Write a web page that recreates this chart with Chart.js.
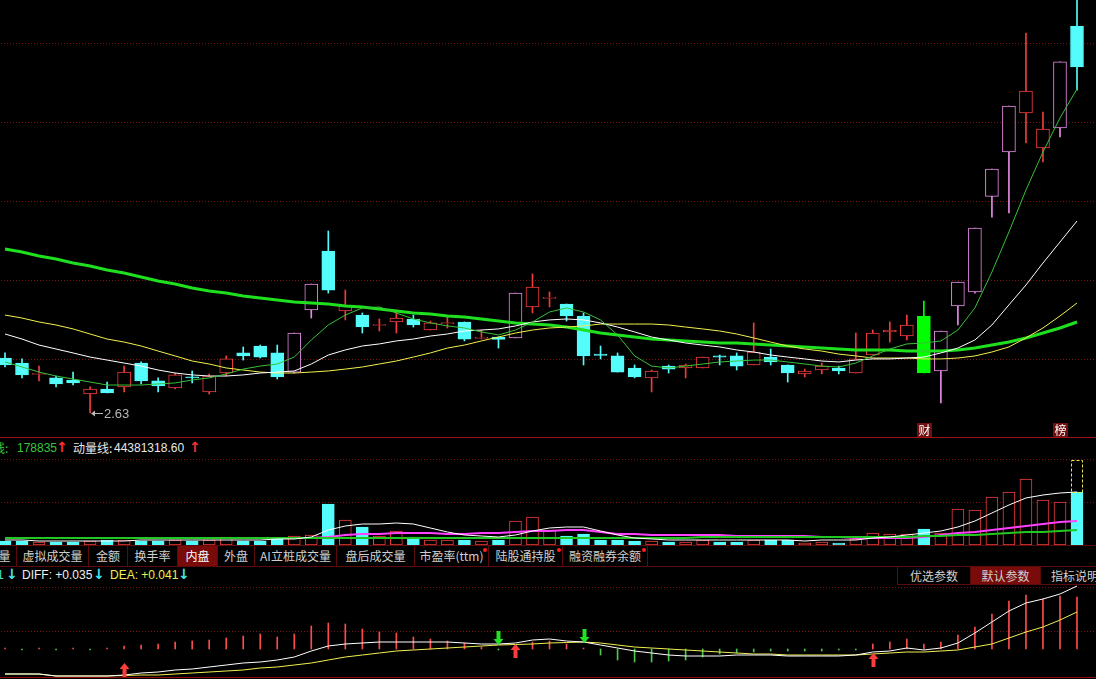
<!DOCTYPE html>
<html>
<head>
<meta charset="utf-8">
<script src="https://cdn.jsdelivr.net/npm/chart.js@4.4.1/dist/chart.umd.min.js"></script>
<style>
  html, body { margin: 0; padding: 0; background: #000; }
  body { width: 1096px; height: 679px; position: relative; overflow: hidden;
         font-family: "Liberation Sans", Arial, "Noto Sans CJK SC", sans-serif; color: #d2d2d2; }
  canvas { position: absolute; left: -20px; }
  .rule { position: absolute; left: 0; width: 1096px; height: 1px; background: #a01010; }
  .t { position: absolute; font-size: 12px; line-height: 16px; white-space: pre; }
  .cjk { font-family: "Noto Sans CJK SC", sans-serif; }
  .ar { font-family: "DejaVu Sans", sans-serif; font-size: 14px; font-weight: bold; }
  .up { color: #ff3030; }
  .dn { color: #40e8f0; }
  .tab { position: absolute; top: 546px; height: 20px; line-height: 19px; text-align: center;
         font-family: "Noto Sans CJK SC", sans-serif; font-size: 12px; color: #d0d0d0;
         border-right: 1px solid #5c0a0a; box-sizing: border-box; }
  .on { background: #7a0b0b; color: #fff; }
  .dot::after { content: ""; position: absolute; right: 1px; top: 2px; width: 4px; height: 4px;
                border-radius: 50%; background: #ff2020; }
  .btn { position: absolute; top: 566px; height: 19px; line-height: 18px; text-align: center;
         font-family: "Noto Sans CJK SC", sans-serif; font-size: 12px; color: #d0d0d0;
         border: 1px solid #5c0a0a; box-sizing: border-box; }
</style>
</head>
<body>

<canvas id="priceChart" width="1136" height="437" style="top:0"></canvas>
<div class="rule" style="top:437px"></div>

<span class="t cjk" style="left:-7px;top:440px;color:#3cc43c">线:</span>
<span class="t" style="left:17px;top:440px;color:#3cc43c">178835</span>
<span class="t ar up" style="left:56px;top:439px">↑</span>
<span class="t cjk" style="left:73px;top:440px;color:#e8e8e8">动量线:</span>
<span class="t" style="left:114px;top:440px;color:#e8e8e8">44381318.60</span>
<span class="t ar up" style="left:189px;top:439px">↑</span>

<canvas id="volChart" width="1136" height="90" style="top:455px"></canvas>
<div class="rule" style="top:545px;background:#5c0a0a"></div>

<div class="tab" style="left:-7px;width:24px">量</div>
<div class="tab" style="left:17px;width:72px">虚拟成交量</div>
<div class="tab" style="left:89px;width:39px">金额</div>
<div class="tab" style="left:128px;width:50px">换手率</div>
<div class="tab on" style="left:178px;width:40px">内盘</div>
<div class="tab" style="left:218px;width:37px">外盘</div>
<div class="tab" style="left:255px;width:82px">AI立桩成交量</div>
<div class="tab" style="left:337px;width:78px">盘后成交量</div>
<div class="tab dot" style="left:415px;width:74px">市盈率(ttm)</div>
<div class="tab dot" style="left:489px;width:74px">陆股通持股</div>
<div class="tab dot" style="left:563px;width:85px">融资融券余额</div>
<div class="rule" style="top:566px;background:#5c0a0a"></div>

<span class="t" style="left:-3px;top:567px;color:#40e8c0">1</span>
<span class="t ar dn" style="left:6px;top:566px">↓</span>
<span class="t" style="left:22px;top:567px;color:#f0f0f0">DIFF: +0.035</span>
<span class="t ar dn" style="left:93px;top:566px">↓</span>
<span class="t" style="left:110px;top:567px;color:#f0f050">DEA: +0.041</span>
<span class="t ar dn" style="left:178px;top:566px">↓</span>
<div class="btn" style="left:897px;width:74px">优选参数</div>
<div class="btn on" style="left:970px;width:71px">默认参数</div>
<div class="btn" style="left:1040px;width:70px">指标说明</div>

<canvas id="macdChart" width="1136" height="94" style="top:585px"></canvas>
<div class="rule" style="top:677px;background:#8a0a0a"></div>

<script>
// daily candles (price)
const opens = [2.978, 2.946, 2.874, 2.852, 2.839, 2.750, 2.782, 2.795, 2.946, 2.833,
  2.788, 2.858, 2.763, 2.883, 3.010, 3.054, 3.010, 2.889, 3.282, 3.655,
  3.276, 3.250, 3.184, 3.206, 3.225, 3.155, 3.196, 3.206, 3.102, 3.111,
  3.105, 3.301, 3.355, 3.320, 3.244, 3.003, 2.991, 2.915, 2.852, 2.927,
  2.915, 2.915, 2.991, 2.991, 2.934, 2.984, 2.934, 2.877, 2.902, 2.915,
  2.883, 2.997, 3.143, 3.117, 3.244, 2.896, 3.307, 3.396, 4.001, 4.282,
  4.529, 4.307, 4.434, 5.079];
const highs = [3.010, 2.972, 2.927, 2.864, 2.889, 2.795, 2.826, 2.927, 2.953, 2.852,
  2.883, 2.896, 2.877, 2.991, 3.048, 3.060, 3.060, 3.136, 3.446, 3.782,
  3.408, 3.263, 3.225, 3.282, 3.250, 3.212, 3.238, 3.206, 3.155, 3.111,
  3.389, 3.510, 3.396, 3.320, 3.263, 3.054, 3.010, 2.934, 2.902, 2.934,
  2.940, 2.984, 2.997, 3.010, 3.200, 3.035, 2.934, 2.908, 2.946, 2.927,
  3.136, 3.155, 3.206, 3.250, 3.339, 3.149, 3.459, 3.801, 4.174, 4.573,
  5.035, 4.535, 4.852, 5.260];
const lows = [2.921, 2.852, 2.833, 2.795, 2.807, 2.630, 2.757, 2.763, 2.814, 2.763,
  2.782, 2.820, 2.750, 2.864, 2.965, 2.978, 2.845, 2.883, 3.231, 3.389,
  3.219, 3.136, 3.149, 3.136, 3.174, 3.155, 3.168, 3.086, 3.098, 3.041,
  3.105, 3.263, 3.301, 3.212, 2.934, 2.972, 2.889, 2.852, 2.763, 2.883,
  2.852, 2.915, 2.934, 2.902, 2.934, 2.934, 2.826, 2.858, 2.877, 2.877,
  2.883, 2.997, 3.079, 3.092, 2.883, 2.693, 3.187, 3.389, 3.870, 3.896,
  4.339, 4.219, 4.377, 4.674];
const closes = [2.934, 2.871, 2.877, 2.814, 2.820, 2.782, 2.757, 2.889, 2.833, 2.801,
  2.871, 2.852, 2.864, 2.972, 2.991, 2.984, 2.858, 3.136, 3.446, 3.408,
  3.307, 3.174, 3.187, 3.231, 3.187, 3.200, 3.200, 3.098, 3.105, 3.095,
  3.389, 3.427, 3.358, 3.244, 2.991, 2.994, 2.889, 2.858, 2.896, 2.908,
  2.934, 2.984, 2.984, 2.927, 3.016, 2.953, 2.883, 2.896, 2.927, 2.896,
  2.972, 3.136, 3.155, 3.187, 2.883, 3.149, 3.459, 3.801, 4.174, 4.573,
  4.668, 4.427, 4.852, 4.820];

// moving averages
const ma5 = [2.953, 2.921, 2.889, 2.864, 2.845, 2.826, 2.807, 2.807, 2.807, 2.814,
  2.820, 2.839, 2.852, 2.877, 2.908, 2.927, 2.940, 2.984, 3.092, 3.187,
  3.250, 3.295, 3.301, 3.263, 3.225, 3.200, 3.181, 3.168, 3.143, 3.124,
  3.155, 3.206, 3.269, 3.295, 3.269, 3.219, 3.124, 2.991, 2.927, 2.915,
  2.927, 2.940, 2.953, 2.959, 2.965, 2.965, 2.953, 2.940, 2.927, 2.921,
  2.946, 2.991, 3.035, 3.067, 3.073, 3.086, 3.155, 3.295, 3.522, 3.776,
  4.041, 4.282, 4.497, 4.681];
const ma10 = [3.130, 3.098, 3.060, 3.035, 3.010, 2.984, 2.965, 2.946, 2.927, 2.902,
  2.883, 2.871, 2.864, 2.864, 2.871, 2.883, 2.889, 2.896, 2.940, 2.997,
  3.029, 3.054, 3.067, 3.086, 3.098, 3.117, 3.130, 3.149, 3.155, 3.162,
  3.181, 3.206, 3.219, 3.225, 3.219, 3.200, 3.174, 3.143, 3.111, 3.092,
  3.073, 3.060, 3.048, 3.029, 3.016, 2.997, 2.984, 2.972, 2.959, 2.953,
  2.965, 2.972, 2.972, 2.978, 2.984, 3.010, 3.041, 3.092, 3.187, 3.314,
  3.440, 3.579, 3.712, 3.845];
const ma20 = [3.250, 3.231, 3.206, 3.187, 3.162, 3.130, 3.098, 3.079, 3.054, 3.022,
  2.991, 2.959, 2.940, 2.915, 2.902, 2.889, 2.883, 2.883, 2.889, 2.896,
  2.908, 2.921, 2.940, 2.959, 2.984, 3.010, 3.041, 3.060, 3.086, 3.111,
  3.136, 3.155, 3.168, 3.174, 3.181, 3.193, 3.193, 3.193, 3.193, 3.187,
  3.174, 3.162, 3.149, 3.130, 3.105, 3.079, 3.054, 3.035, 3.022, 3.003,
  2.991, 2.978, 2.978, 2.978, 2.972, 2.972, 2.978, 2.991, 3.016, 3.048,
  3.105, 3.168, 3.244, 3.326];
const ma60 = [3.668, 3.649, 3.624, 3.605, 3.579, 3.560, 3.535, 3.516, 3.491, 3.465,
  3.446, 3.421, 3.402, 3.389, 3.371, 3.358, 3.345, 3.333, 3.326, 3.320,
  3.307, 3.301, 3.288, 3.276, 3.263, 3.257, 3.244, 3.238, 3.225, 3.212,
  3.200, 3.193, 3.187, 3.174, 3.155, 3.136, 3.124, 3.111, 3.098, 3.092,
  3.086, 3.079, 3.073, 3.073, 3.067, 3.060, 3.054, 3.048, 3.041, 3.035,
  3.029, 3.029, 3.029, 3.022, 3.022, 3.022, 3.029, 3.041, 3.060, 3.079,
  3.105, 3.136, 3.168, 3.206];
const priceGrid = [2.97, 3.47, 3.97, 4.47, 4.97];
const eventDays = [54, 62];
const eventTags = ['财', '榜'];

// volume panel (thousand lots)
const volumes = [16, 16, 12, 12, 12, 16, 20, 20, 16, 16,
  20, 16, 20, 32, 16, 16, 28, 36, 40, 164,
  100, 72, 36, 56, 32, 20, 20, 20, 16, 20,
  96, 112, 60, 36, 44, 20, 20, 16, 16, 12,
  12, 20, 12, 12, 20, 20, 20, 8, 12, 8,
  24, 48, 44, 44, 64, 48, 144, 140, 192, 212,
  264, 180, 172, 212];
const lastDayVolumeEst = 340;
const volMa5 = [20, 20, 16, 16, 16, 16, 16, 16, 20, 20,
  20, 20, 20, 20, 20, 20, 24, 24, 32, 60,
  76, 84, 84, 88, 84, 68, 52, 40, 36, 32,
  40, 56, 68, 72, 72, 56, 40, 28, 24, 20,
  20, 20, 20, 20, 20, 20, 20, 16, 20, 20,
  20, 28, 32, 40, 48, 56, 72, 96, 128, 160,
  188, 200, 208, 212];
const volMa20 = [28, 28, 28, 28, 28, 28, 28, 28, 28, 28,
  28, 28, 28, 28, 28, 28, 28, 28, 28, 32,
  40, 44, 44, 48, 48, 48, 44, 44, 48, 48,
  52, 56, 56, 60, 60, 52, 44, 44, 40, 40,
  40, 40, 40, 36, 36, 36, 36, 36, 32, 32,
  28, 28, 28, 28, 32, 40, 48, 52, 60, 68,
  76, 84, 92, 96];
const volMa60 = [28, 28, 28, 28, 28, 28, 28, 28, 28, 28,
  28, 28, 28, 28, 28, 28, 28, 28, 28, 28,
  28, 28, 28, 28, 28, 28, 28, 28, 28, 28,
  28, 28, 28, 28, 28, 28, 28, 28, 28, 28,
  28, 32, 32, 32, 32, 32, 32, 32, 32, 32,
  32, 32, 32, 32, 36, 36, 40, 40, 44, 48,
  52, 52, 56, 60];
const volGrid = [172, 344];

// MACD panel
const diff = [-0.125, -0.125, -0.125, -0.135, -0.135, -0.135, -0.135, -0.130, -0.120, -0.115,
  -0.105, -0.100, -0.090, -0.080, -0.070, -0.065, -0.055, -0.040, -0.010, 0.015,
  0.025, 0.030, 0.035, 0.035, 0.035, 0.035, 0.035, 0.030, 0.025, 0.025,
  0.030, 0.045, 0.050, 0.040, 0.035, 0.020, 0.005, -0.010, -0.020, -0.030,
  -0.035, -0.035, -0.035, -0.030, -0.030, -0.030, -0.035, -0.035, -0.035, -0.035,
  -0.030, -0.015, -0.010, 0.005, -0.005, 0.005, 0.030, 0.080, 0.135, 0.190,
  0.230, 0.250, 0.275, 0.315];
const dea = [-0.125, -0.125, -0.125, -0.135, -0.135, -0.135, -0.135, -0.1325, -0.130, -0.130,
  -0.125, -0.120, -0.115, -0.110, -0.105, -0.095, -0.090, -0.080, -0.070, -0.055,
  -0.040, -0.030, -0.020, -0.010, -0.005, 0.000, 0.005, 0.010, 0.015, 0.020,
  0.0225, 0.025, 0.030, 0.0325, 0.035, 0.030, 0.020, 0.010, 0.005, 0.000,
  -0.005, -0.010, -0.015, -0.020, -0.025, -0.025, -0.030, -0.030, -0.030, -0.030,
  -0.030, -0.025, -0.020, -0.015, -0.015, -0.010, -0.005, 0.010, 0.025, 0.055,
  0.085, 0.110, 0.145, 0.185];
const macdHist = [0.002, -0.002, 0.002, -0.002, 0.002, -0.002, 0.002, 0.015, 0.020, 0.025,
  0.035, 0.040, 0.045, 0.055, 0.065, 0.075, 0.060, 0.075, 0.115, 0.130,
  0.125, 0.100, 0.085, 0.080, 0.060, 0.050, 0.040, 0.030, 0.010, -0.002,
  0.010, 0.035, 0.040, 0.025, 0.002, -0.030, -0.055, -0.065, -0.065, -0.060,
  -0.055, -0.040, -0.025, -0.020, -0.015, -0.010, -0.010, -0.010, -0.010, -0.005,
  -0.005, 0.025, 0.035, 0.050, 0.025, 0.035, 0.070, 0.110, 0.175, 0.240,
  0.270, 0.250, 0.265, 0.260];
const goldenCross = [7, 30, 51];
const deadCross = [29, 34];
const macdGrid = [0.31, 0.09];

const days = closes.map((_, i) => i + 1);

const RED = '#f03c3c', CYAN = '#54fcfc', PINK = '#e58be6', LIMIT_DN = '#00ff00';

function candleColor(i) {
  const prev = i > 0 ? closes[i - 1] : opens[i];
  const chg = closes[i] / prev - 1;
  if (chg >= 0.09) return PINK;
  if (chg <= -0.09) return LIMIT_DN;
  return closes[i] >= opens[i] ? RED : CYAN;
}
const candleColors = closes.map((_, i) => candleColor(i));
const isUp = closes.map((c, i) => c >= opens[i]);

// dotted horizontal grid at given values
const dotGrid = {
  id: 'dotGrid',
  beforeDatasetsDraw(chart, args, opts) {
    const { ctx, scales: { y } } = chart;
    ctx.save();
    ctx.strokeStyle = '#7a1414';
    ctx.lineWidth = 1;
    ctx.setLineDash([1, 2]);
    opts.values.forEach(v => {
      const py = Math.round(y.getPixelForValue(v)) + 0.5;
      ctx.beginPath();
      ctx.moveTo(0, py);
      ctx.lineTo(chart.width, py);
      ctx.stroke();
    });
    ctx.restore();
  }
};

// lowest-price label and event tags
const priceMarks = {
  id: 'priceMarks',
  afterDatasetsDraw(chart) {
    const { ctx, chartArea, scales: { x, y } } = chart;
    const lo = Math.min(...lows);
    const li = lows.indexOf(lo);
    const px = Math.round(x.getPixelForValue(li));
    const py = Math.round(y.getPixelForValue(lo));
    ctx.save();
    ctx.strokeStyle = ctx.fillStyle = '#b8b8b8';
    ctx.lineWidth = 1;
    ctx.beginPath();
    ctx.moveTo(px + 3, py + 0.5);
    ctx.lineTo(px + 13, py + 0.5);
    ctx.stroke();
    ctx.beginPath();
    ctx.moveTo(px + 1, py + 0.5);
    ctx.lineTo(px + 5, py - 2.5);
    ctx.lineTo(px + 5, py + 3.5);
    ctx.closePath();
    ctx.fill();
    ctx.font = '13px "Liberation Sans", Arial';
    ctx.textBaseline = 'middle';
    ctx.fillText(lo.toFixed(2), px + 14, py + 1);

    ctx.font = '12px "Noto Sans CJK SC"';
    ctx.textAlign = 'center';
    eventDays.forEach((d, k) => {
      const ex = Math.round(x.getPixelForValue(d));
      ctx.fillStyle = '#701010';
      ctx.fillRect(ex - 7, chartArea.bottom - 14, 15, 14);
      ctx.fillStyle = '#ffffff';
      ctx.fillText(eventTags[k], ex + 0.5, chartArea.bottom - 6.5);
    });
    ctx.restore();
  }
};

// dashed box for the estimated full-day volume of the last session
const projBox = {
  id: 'projBox',
  afterDatasetsDraw(chart) {
    const { ctx, scales: { x, y } } = chart;
    const i = volumes.length - 1;
    const px = Math.round(x.getPixelForValue(i));
    const y0 = Math.round(y.getPixelForValue(volumes[i]));
    const y1 = Math.round(y.getPixelForValue(lastDayVolumeEst));
    ctx.save();
    ctx.strokeStyle = '#e8e850';
    ctx.setLineDash([3, 2]);
    ctx.strokeRect(px - 6 + 0.5, y1 + 0.5, 11, y0 - y1);
    ctx.restore();
  }
};

// golden / dead cross arrows on DIFF
const crossArrows = {
  id: 'crossArrows',
  afterDatasetsDraw(chart) {
    const { ctx, chartArea, scales: { x, y } } = chart;
    const arrow = (cx, tip, dir, color) => {
      ctx.fillStyle = color;
      ctx.beginPath();
      ctx.moveTo(cx, tip);
      ctx.lineTo(cx + 5, tip + dir * 6);
      ctx.lineTo(cx + 2, tip + dir * 6);
      ctx.lineTo(cx + 2, tip + dir * 14);
      ctx.lineTo(cx - 2, tip + dir * 14);
      ctx.lineTo(cx - 2, tip + dir * 6);
      ctx.lineTo(cx - 5, tip + dir * 6);
      ctx.closePath();
      ctx.fill();
    };
    ctx.save();
    goldenCross.forEach(i => {
      const cx = Math.round(x.getPixelForValue(i)) + 0.5;
      const tip = Math.min(y.getPixelForValue(diff[i]) + 1, chartArea.bottom - 16);
      arrow(cx, tip, 1, '#ff3c3c');
    });
    deadCross.forEach(i => {
      const cx = Math.round(x.getPixelForValue(i)) + 0.5;
      const tip = y.getPixelForValue(diff[i]) + 1;
      arrow(cx, tip, -1, '#22e022');
    });
    ctx.restore();
  }
};

function baseOptions(yMin, yMax, gridValues) {
  return {
    responsive: false,
    animation: false,
    devicePixelRatio: 1,
    events: [],
    layout: { padding: { left: 25, right: 39, top: 0, bottom: 0 } },
    scales: {
      x: { display: false, offset: false },
      y: { display: false, min: yMin, max: yMax }
    },
    plugins: {
      legend: { display: false },
      tooltip: { enabled: false },
      dotGrid: { values: gridValues }
    }
  };
}

const line = (data, color, width, order) => ({
  type: 'line', data, borderColor: color, borderWidth: width,
  pointRadius: 0, tension: 0, order, clip: false
});

new Chart(document.getElementById('priceChart'), {
  type: 'bar',
  data: {
    labels: days,
    datasets: [
      {
        data: lows.map((l, i) => [l, highs[i]]),
        backgroundColor: candleColors,
        barThickness: 1, grouped: false, order: 6, clip: false
      },
      {
        data: opens.map((o, i) => [o, closes[i]]),
        backgroundColor: candleColors.map((c, i) => isUp[i] ? '#000' : c),
        borderColor: candleColors,
        borderWidth: 1, borderSkipped: false, minBarLength: 1,
        barThickness: 13, grouped: false, order: 5, clip: false
      },
      line(ma60, '#1ee01e', 3, 4),
      line(ma20, '#f0f050', 1, 3),
      line(ma10, '#ffffff', 1, 2),
      line(ma5, '#38c038', 1, 1)
    ]
  },
  options: baseOptions(2.478, 5.244, priceGrid),
  plugins: [dotGrid, priceMarks]
});

new Chart(document.getElementById('volChart'), {
  type: 'bar',
  data: {
    labels: days,
    datasets: [
      {
        data: volumes,
        backgroundColor: isUp.map(u => u ? '#000' : CYAN),
        borderColor: isUp.map(u => u ? RED : CYAN),
        borderWidth: 1, borderSkipped: false,
        barThickness: 12, grouped: false, order: 4, clip: false
      },
      line(volMa20, '#ff40ff', 2, 3),
      line(volMa60, '#22c822', 2, 2),
      line(volMa5, '#ffffff', 1, 1)
    ]
  },
  options: baseOptions(0, 360, volGrid),
  plugins: [dotGrid, projBox]
});

new Chart(document.getElementById('macdChart'), {
  type: 'bar',
  data: {
    labels: days,
    datasets: [
      {
        data: macdHist,
        backgroundColor: macdHist.map(v => v >= 0 ? '#ff4a4a' : '#4cc84c'),
        barThickness: 1, minBarLength: 1, grouped: false, order: 3, clip: false
      },
      line(dea, '#f0f050', 1, 2),
      line(diff, '#ffffff', 1, 1)
    ]
  },
  options: baseOptions(-0.15, 0.32, macdGrid),
  plugins: [dotGrid, crossArrows]
});
</script>
</body>
</html>
